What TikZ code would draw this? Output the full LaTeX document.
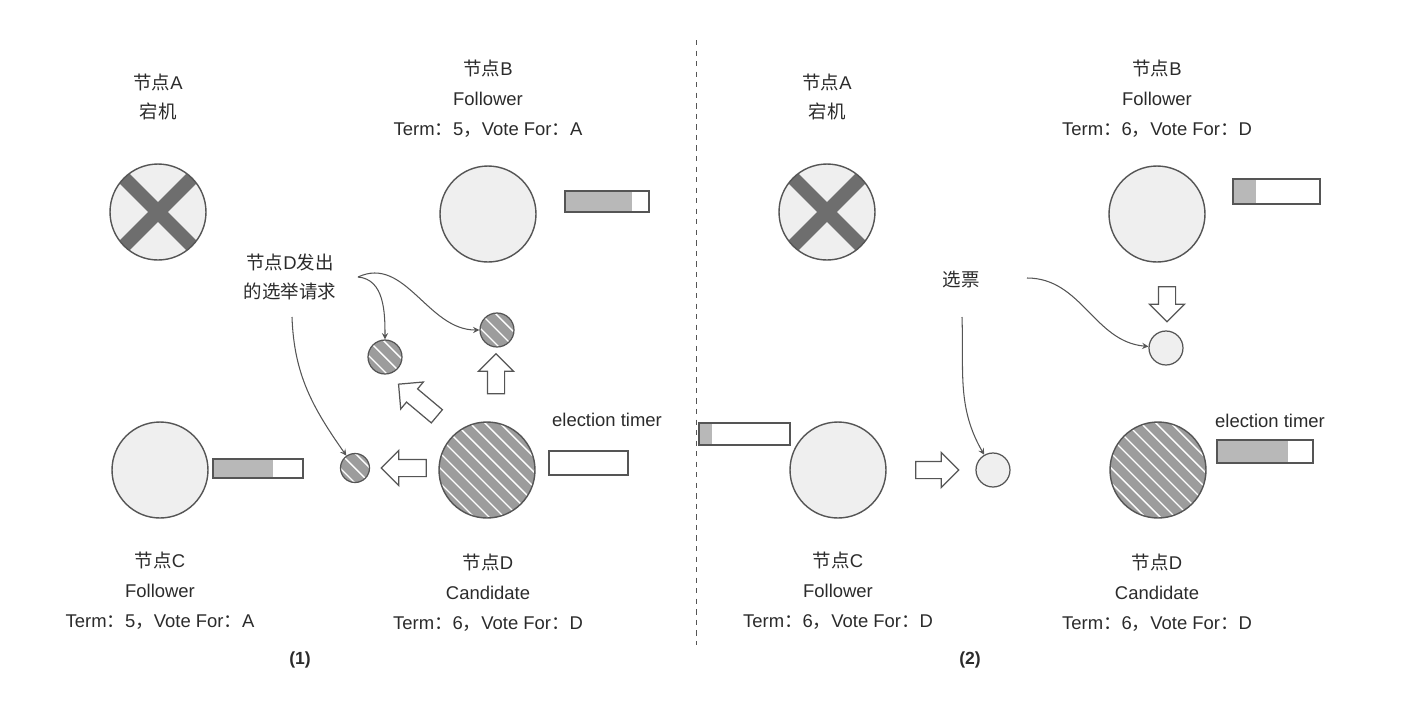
\documentclass[tikz,border=0pt]{standalone}
\usepackage{fontspec}
\setmainfont{Liberation Sans}
\newfontfamily\cjk{Noto Sans CJK SC}
\usetikzlibrary{arrows,shapes.arrows}

\definecolor{edgegray}{HTML}{555555}
\definecolor{nodegray}{HTML}{EFEFEF}
\definecolor{hatchgray}{HTML}{9C9C9C}
\definecolor{crossgray}{HTML}{6E6E6E}
\definecolor{bargray}{HTML}{B8B8B8}
\definecolor{inkgray}{HTML}{2B2B2B}

\newcommand{\zh}[1]{{\cjk #1}}
\newcommand{\termline}[2]{Term\zh{：}#1\zh{，}Vote For\zh{：}#2}
% timer bar: x1, y1, x2, y2, end of the filled part
\newcommand{\timerbar}[5]{%
  \fill[bargray] (#1,#2) rectangle (#5,#4);
  \draw[edgegray, line width=0.7pt] (#1,#2) rectangle (#3,#4);}

\begin{document}
\begin{tikzpicture}[
  x=0.02cm, y=0.02cm,
  every node/.style={font=\fontsize{10.5}{17}\selectfont, text=inkgray, inner sep=1pt},
  server/.style={circle, draw=edgegray, fill=nodegray, line width=0.8pt, minimum size=1.92cm},
  crashed/.style={server, path picture={
      \draw[crossgray, line width=8pt]
        (path picture bounding box.north west) -- (path picture bounding box.south east)
        (path picture bounding box.north east) -- (path picture bounding box.south west);}},
  candidate/.style={server, fill=hatchgray, path picture={
      \foreach \k in {-8,...,8}
        \draw[white, line width=0.8pt]
          ([shift={(\k*0.3cm,0cm)}]path picture bounding box.center)
          ++(-1.5cm,1.5cm) -- ++(3cm,-3cm);}},
  request/.style={candidate, minimum size=0.68cm, line width=0.7pt},
  vote/.style={server, minimum size=0.68cm, line width=0.7pt},
  nodetext/.style={align=center},
  bigarrow/.style={single arrow, draw=edgegray, fill=white, line width=0.7pt,
    minimum width=0.68cm, inner sep=0.16cm, single arrow head extend=0.18cm},
  flow/.style={draw=edgegray, ->, >=stealth, line width=0.6pt}
]
\useasboundingbox (0,0) rectangle (1411,-701);

% (1) node D asks for votes
\node[crashed] (A1) at (158,-212) {};
\node[server] (B1) at (488,-214) {};
\node[server] (C1) at (160,-470) {};
\node[candidate] (D1) at (487,-470) {};
\node[nodetext] (labA1) at (158,-97) {\zh{节点}A\\\zh{宕机}};
\node[nodetext] (labB1) at (488,-99) {\zh{节点}B\\Follower\\\termline{5}{A}};
\node[nodetext] (labC1) at (160,-591) {\zh{节点}C\\Follower\\\termline{5}{A}};
\node[nodetext] (labD1) at (488,-593) {\zh{节点}D\\Candidate\\\termline{6}{D}};
\timerbar{565}{-191}{649}{-212}{632}
\timerbar{213}{-459}{303}{-478}{273}
\draw[edgegray, line width=0.7pt] (549,-451) rectangle (628,-475);
\node (timer1) at (607,-420) {election timer};

\node[request] (rqA) at (385,-357) {};
\node[request] (rqB) at (497,-330) {};
\node[request, minimum size=0.58cm] (rqC) at (355,-468) {};
\node[bigarrow, minimum height=0.8cm, shape border rotate=90] (upB) at (496,-378) {};
\node[bigarrow, minimum height=1cm, rotate=140] (toA) at (421,-403) {};
\node[bigarrow, minimum height=0.9cm, shape border rotate=180] (toC) at (408,-468) {};

\node[nodetext] (req) at (290,-277) {\zh{节点}D\zh{发出}\\\zh{的选举请求}};
\coordinate (reqend) at (358,-277);
\coordinate (reqlow) at (292,-317);
\draw[flow] (reqend) to[out=-5, in=90] (rqA);
\draw[flow] (reqend) to[out=25, in=180] (rqB);
\draw[flow] (reqlow) to[out=-88, in=125] (rqC);
\node[font=\bfseries\fontsize{10}{12}\selectfont] (cap1) at (300,-660) {(1)};

% divider
\draw[edgegray, line width=0.5pt, dash pattern=on 3pt off 3pt] (696,-40) -- (696,-645);

% (2) votes come back
\node[crashed] (A2) at (827,-212) {};
\node[server] (B2) at (1157,-214) {};
\node[server] (C2) at (838,-470) {};
\node[candidate] (D2) at (1158,-470) {};
\node[nodetext] (labA2) at (827,-97) {\zh{节点}A\\\zh{宕机}};
\node[nodetext] (labB2) at (1157,-99) {\zh{节点}B\\Follower\\\termline{6}{D}};
\node[nodetext] (labC2) at (838,-591) {\zh{节点}C\\Follower\\\termline{6}{D}};
\node[nodetext] (labD2) at (1157,-593) {\zh{节点}D\\Candidate\\\termline{6}{D}};
\timerbar{1233}{-179}{1320}{-204}{1256}
\timerbar{699}{-423}{790}{-445}{712}
\timerbar{1217}{-440}{1313}{-463}{1288}
\node (timer2) at (1270,-421) {election timer};

\node[vote] (vtB) at (1166,-348) {};
\node[vote] (vtC) at (993,-470) {};
\node[bigarrow, minimum height=0.7cm, shape border rotate=270] (downB) at (1167,-300) {};
\node[bigarrow, minimum height=0.86cm] (fromC) at (933,-470) {};

\node (ballot) at (961,-280) {\zh{选票}};
\coordinate (ballotend) at (1027,-278);
\coordinate (ballotlow) at (962,-317);
\draw[flow] (ballotend) to[out=0, in=175] (vtB);
\draw[flow] (ballotlow) to[out=-88, in=120] (vtC);
\node[font=\bfseries\fontsize{10}{12}\selectfont] (cap2) at (970,-660) {(2)};
\end{tikzpicture}
\end{document}
